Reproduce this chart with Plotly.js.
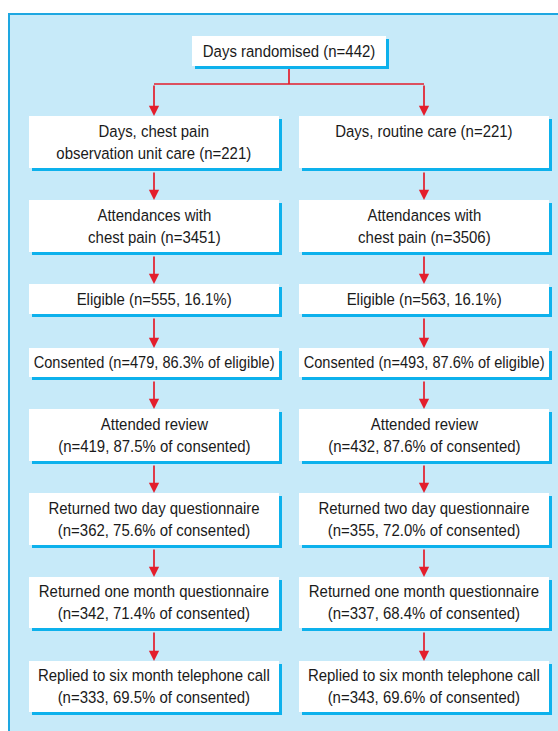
<!DOCTYPE html>
<html>
<head>
<meta charset="utf-8">
<script src="https://cdn.plot.ly/plotly-3.0.1.min.js"></script>
<style>html,body{margin:0;padding:0;background:#fff;}#chart{width:558px;height:731px;}</style>
</head>
<body>
<div id="chart"></div>
<script>
// ---- data ----
const topLabel = "Days randomised (n=442)";
const leftLabels = [
  "Days, chest pain<br>observation unit care (n=221)",
  "Attendances with<br>chest pain (n=3451)",
  "Eligible (n=555, 16.1%)",
  "Consented (n=479, 86.3% of eligible)",
  "Attended review<br>(n=419, 87.5% of consented)",
  "Returned two day questionnaire<br>(n=362, 75.6% of consented)",
  "Returned one month questionnaire<br>(n=342, 71.4% of consented)",
  "Replied to six month telephone call<br>(n=333, 69.5% of consented)"
];
const rightLabels = [
  "Days, routine care (n=221)",
  "Attendances with<br>chest pain (n=3506)",
  "Eligible (n=563, 16.1%)",
  "Consented (n=493, 87.6% of eligible)",
  "Attended review<br>(n=432, 87.6% of consented)",
  "Returned two day questionnaire<br>(n=355, 72.0% of consented)",
  "Returned one month questionnaire<br>(n=337, 68.4% of consented)",
  "Replied to six month telephone call<br>(n=343, 69.6% of consented)"
];

// ---- layout geometry ----
const rowTop = [116,200,284,348,409,493,577,661];
const rowBot = [168,252,314,377,461,545,628,712];
const cols = [{x0:29,x1:279,labels:leftLabels},{x0:299,x1:549,labels:rightLabels}];
const topBox = {x0:192,x1:386,y0:36,y1:66};
const splitY = 84;

const FILL = "#c7eaf9", BORDER = "#1ea7e1", SHADOW = "#0db1ec", RED = "#e31e2c", TXT = "#1a1a1a";
const FONT = {family:"Liberation Sans, Arial, sans-serif", size:17, color:TXT};

const shapes = [];
const annotations = [];

// panel
shapes.push({type:"rect",xref:"x",yref:"y",x0:9,x1:570,y0:14,y1:745,fillcolor:FILL,line:{color:BORDER,width:2},layer:"below"});

function box(b){
  shapes.push({type:"rect",xref:"x",yref:"y",x0:b.x0+3,x1:b.x1+3,y0:b.y0+3,y1:b.y1+3,fillcolor:SHADOW,line:{width:0}});
  shapes.push({type:"rect",xref:"x",yref:"y",x0:b.x0,x1:b.x1,y0:b.y0,y1:b.y1,fillcolor:"#ffffff",line:{width:0}});
}
function label(x,y,text){
  annotations.push({xref:"x",yref:"y",x:x,y:y,text:text,showarrow:false,font:FONT,xanchor:"center",yanchor:"middle",align:"center"});
}
function arrow(x,y0,y1){
  annotations.push({xref:"x",yref:"y",axref:"x",ayref:"y",x:x,y:y1,ax:x,ay:y0,text:"",showarrow:true,arrowhead:2,arrowsize:1.2,arrowwidth:1.7,arrowcolor:RED,standoff:0,startstandoff:0});
}
function line(x0,y0,x1,y1){
  shapes.push({type:"line",xref:"x",yref:"y",x0:x0,y0:y0,x1:x1,y1:y1,line:{color:RED,width:1.7}});
}

// top box
box(topBox);
label((topBox.x0+topBox.x1)/2,(topBox.y0+topBox.y1)/2,topLabel);
const midTop = 289;
line(midTop,topBox.y1+3,midTop,splitY);
const cx = cols.map(c=>(c.x0+c.x1)/2);
line(cx[0],splitY,cx[1],splitY);
cx.forEach(x=>arrow(x,splitY,rowTop[0]));

cols.forEach((c,ci)=>{
  c.labels.forEach((t,i)=>{
    box({x0:c.x0,x1:c.x1,y0:rowTop[i],y1:rowBot[i]});
    const twoLine = t.indexOf("<br>")>=0;
    let y = (rowTop[i]+rowBot[i])/2;
    if(!twoLine && (rowBot[i]-rowTop[i])>40) y = rowTop[i]+15;
    label(cx[ci],y,t);
    if(i<c.labels.length-1) arrow(cx[ci],rowBot[i]+3,rowTop[i+1]);
  });
});

const layout = {
  width:558,height:731,
  margin:{l:0,r:0,t:0,b:0},
  paper_bgcolor:"#ffffff",plot_bgcolor:"#ffffff",
  xaxis:{range:[0,558],visible:false,fixedrange:true},
  yaxis:{range:[731,0],visible:false,fixedrange:true},
  shapes:shapes,annotations:annotations,showlegend:false
};
Plotly.newPlot("chart",[],layout,{staticPlot:true,displayModeBar:false}).then(function(gd){
  // condense the glyphs horizontally, like the narrow face of the reference
  gd.querySelectorAll("text.annotation-text").forEach(function(t){
    let w = 0;
    try { w = t.getBBox().width; } catch(e) {}
    let s = 0.88;
    if (w > 0) s = Math.min(s, 241 / w);
    t.style.transformBox = "fill-box";
    t.style.transformOrigin = "center";
    t.style.transform = "scaleX(" + s.toFixed(3) + ")";
  });
});
</script>
</body>
</html>
